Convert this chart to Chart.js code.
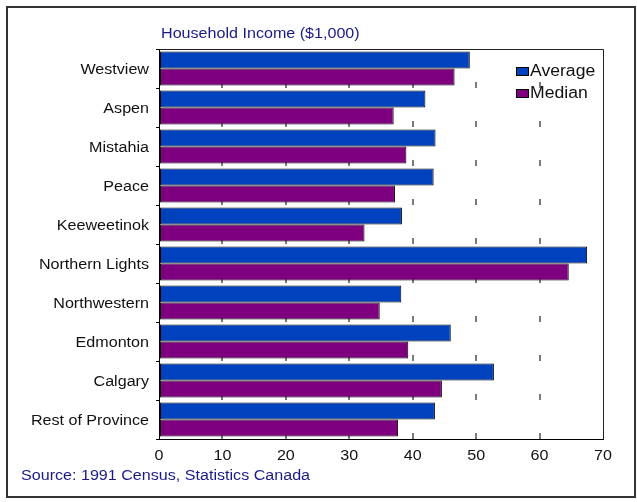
<!DOCTYPE html>
<html>
<head>
<meta charset="utf-8">
<script src="https://cdn.jsdelivr.net/npm/chart.js@4/dist/chart.umd.min.js"></script>
<style>
  html, body { margin: 0; padding: 0; background: #ffffff; }
  #wrap { position: relative; width: 637px; height: 502px; overflow: hidden; background: #fff; }
  #frame { position: absolute; left: 6px; top: 6px; width: 630px; height: 492px; box-sizing: border-box; border: 2px solid #333; }
  #chart { position: absolute; left: 0; top: 0; }
  .note { position: absolute; font-family: "Liberation Sans", Arial, sans-serif; font-size: 14px; color: #1a1a8a; white-space: nowrap; transform: scaleX(1.15); transform-origin: left center; line-height: 16px; }
  #title { left: 161px; top: 25px; }
  #source { left: 21px; top: 467px; }
  #legend { position: absolute; left: 516px; top: 60px; font-family: "Liberation Sans", Arial, sans-serif; font-size: 16px; color: #111; }
  .lrow { display: flex; align-items: center; height: 22px; }
  .lbox { width: 13px; height: 9px; box-sizing: border-box; border: 1px solid #000; margin-right: 1px; flex: none; }
  .ltxt { display: inline-block; transform: scaleX(1.1); transform-origin: left center; }
</style>
</head>
<body>
<div id="wrap">
  <div id="frame"></div>
  <canvas id="chart" width="637" height="502"></canvas>
  <div id="title" class="note">Household Income ($1,000)</div>
  <div id="source" class="note">Source: 1991 Census, Statistics Canada</div>
  <div id="legend"></div>
</div>
<script>
const categories = ["Westview", "Aspen", "Mistahia", "Peace", "Keeweetinok", "Northern Lights", "Northwestern", "Edmonton", "Calgary", "Rest of Province"];
const averageIncome = [49.0, 42.0, 43.6, 43.3, 38.3, 67.5, 38.2, 46.0, 52.8, 43.5];
const medianIncome = [46.6, 37.0, 39.0, 37.2, 32.4, 64.6, 34.8, 39.3, 44.6, 37.7];
const seriesNames = ["Average", "Median"];
const seriesColors = ["#0041BD", "#7F007F"];
const xTicks = [0, 10, 20, 30, 40, 50, 60, 70];

// HTML legend built from the series arrays
const legendEl = document.getElementById('legend');
seriesNames.forEach((name, i) => {
  const row = document.createElement('div');
  row.className = 'lrow';
  const box = document.createElement('span');
  box.className = 'lbox';
  box.style.background = seriesColors[i];
  const txt = document.createElement('span');
  txt.className = 'ltxt';
  txt.textContent = name;
  row.appendChild(box);
  row.appendChild(txt);
  legendEl.appendChild(row);
});

// the reference's lettering is slightly wide: stretch canvas text horizontally about its anchor
const canvas = document.getElementById('chart');
const ctx2d = canvas.getContext('2d');
const baseFillText = CanvasRenderingContext2D.prototype.fillText;
ctx2d.fillText = function (t, x, y, mw) {
  this.save();
  this.translate(x, y);
  this.scale(1.15, 1);
  if (mw === undefined) baseFillText.call(this, t, 0, 0);
  else baseFillText.call(this, t, 0, 0, mw / 1.15);
  this.restore();
};

const frameBorder = {
  id: 'frameBorder',
  afterDatasetsDraw(chart) {
    const a = chart.chartArea;
    const ctx = chart.ctx;
    ctx.save();
    ctx.strokeStyle = '#222';
    ctx.lineWidth = 1;
    ctx.beginPath();
    ctx.moveTo(Math.round(a.left) + 0.5, Math.round(a.top) + 0.5);
    ctx.lineTo(Math.round(a.right) + 0.5, Math.round(a.top) + 0.5);
    ctx.lineTo(Math.round(a.right) + 0.5, Math.round(a.bottom) + 0.5);
    ctx.stroke();
    ctx.restore();
  }
};

const font = { family: '"Liberation Sans", Arial, sans-serif', size: 14 };

new Chart(canvas, {
  type: 'bar',
  data: {
    labels: categories,
    datasets: [
      { label: seriesNames[0], data: averageIncome, backgroundColor: seriesColors[0], borderColor: '#000', borderWidth: 1, borderSkipped: false },
      { label: seriesNames[1], data: medianIncome, backgroundColor: seriesColors[1], borderColor: '#000', borderWidth: 1, borderSkipped: false }
    ]
  },
  options: {
    indexAxis: 'y',
    responsive: false,
    animation: false,
    devicePixelRatio: 1,
    categoryPercentage: 0.87,
    barPercentage: 1.0,
    layout: { padding: { left: 0, right: 34, top: 49, bottom: 0 } },
    plugins: {
      legend: { display: false },
      tooltip: { enabled: false },
      title: { display: false }
    },
    scales: {
      x: {
        type: 'linear',
        min: xTicks[0],
        max: xTicks[xTicks.length - 1],
        afterFit(scale) { scale.height = 63; },
        afterBuildTicks(scale) { scale.ticks = xTicks.map(v => ({ value: v })); },
        ticks: { font: font, color: '#111', padding: 9 },
        grid: {
          drawTicks: false,
          lineWidth: 2,
          color: (ctx) => (ctx.tick && (ctx.tick.value === xTicks[0] || ctx.tick.value === xTicks[xTicks.length - 1])) ? 'rgba(0,0,0,0)' : '#7a7a7a'
        },
        border: { display: true, color: '#000', width: 1, dash: [6, 33], dashOffset: 6 }
      },
      y: {
        afterFit(scale) { scale.width = 159; },
        ticks: { font: font, color: '#111', padding: 7, labelOffset: 2 },
        grid: { drawOnChartArea: false, drawTicks: true, tickLength: 3, color: '#000', offset: true },
        border: { display: true, color: '#000', width: 1 }
      }
    }
  },
  plugins: [frameBorder]
});
</script>
</body>
</html>
